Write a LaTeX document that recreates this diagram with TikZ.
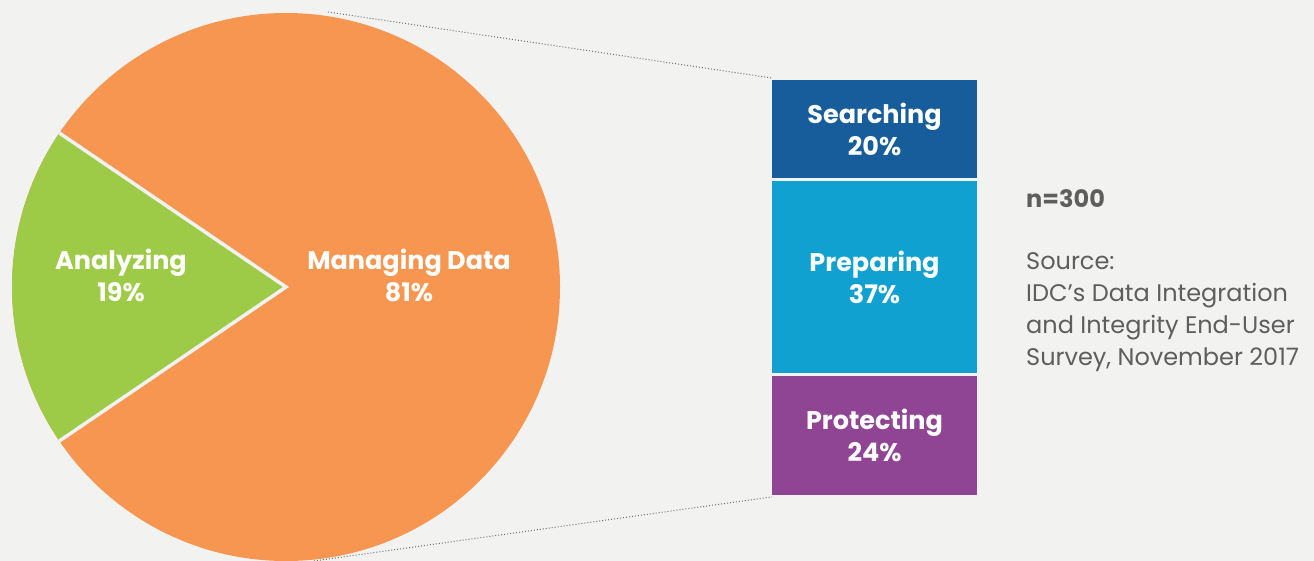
\documentclass[tikz,border=0pt]{standalone}
\usepackage{fontspec}
\setmainfont{Poppins}
\usetikzlibrary{calc}
\definecolor{bg}{HTML}{F2F2F0}
\definecolor{pieorange}{HTML}{F79651}
\definecolor{piegreen}{HTML}{9DCB48}
\definecolor{barblue}{HTML}{175D9C}
\definecolor{barcyan}{HTML}{10A1D0}
\definecolor{barpurple}{HTML}{904594}
\definecolor{txtgray}{HTML}{5E5E5E}
\definecolor{dotgray}{HTML}{707070}
\tikzset{
  lbl/.style={text=white, font=\fontsize{25.5}{32}\selectfont\bfseries, align=center, inner sep=0pt},
  barbox/.style={lbl, minimum width=205pt, inner sep=0pt, anchor=north},
  zoomline/.style={draw=dotgray, line width=1pt, dash pattern=on 1pt off 2pt},
  note/.style={text=txtgray, align=left, anchor=north west, inner sep=0pt}
}
\begin{document}
\begin{tikzpicture}[x=1pt,y=-1pt]
\fill[bg] (0,0) rectangle (1314,561);
\useasboundingbox (0,0) rectangle (1314,561);
% pie
\coordinate (c) at (286,287);
\fill[pieorange] (c) circle (274pt);
\fill[piegreen] (c) -- ++(145.8:274pt) arc[start angle=145.8, end angle=214.2, radius=274pt] -- cycle;
\draw[bg, line width=3.5pt] ($(c)+(145.8:274pt)$) coordinate (ga) -- (c) -- ($(c)+(214.2:274pt)$) coordinate (gb);
\node[lbl] (analyzing) at (121,275) {Analyzing\\19\%};
\node[lbl] (managing) at (409,275) {Managing Data\\81\%};
% bars
\node[barbox, fill=barblue, minimum height=97.5pt] (search) at (874.5,80) {Searching\\20\%};
\node[barbox, fill=barcyan, minimum height=191.5pt] (prep) at (874.5,181) {Preparing\\37\%};
\node[barbox, fill=barpurple, minimum height=118.5pt] (prot) at (874.5,376) {Protecting\\24\%};
% zoom lines
\coordinate (ptop) at (328,12);
\coordinate (pbot) at (314,561);
\draw[zoomline] (ptop) -- ([yshift=2pt]search.north west);
\draw[zoomline] (pbot) -- ([yshift=-2pt]prot.south west);
% notes
\node[note, font=\fontsize{24}{32}\selectfont\bfseries] (n) at (1026,189) {n=300};
\node[note, font=\fontsize{24}{32}\selectfont] (src) at (1026,252) {Source:\\IDC’s Data Integration\\and Integrity End-User\\Survey, November 2017};
\end{tikzpicture}
\end{document}
